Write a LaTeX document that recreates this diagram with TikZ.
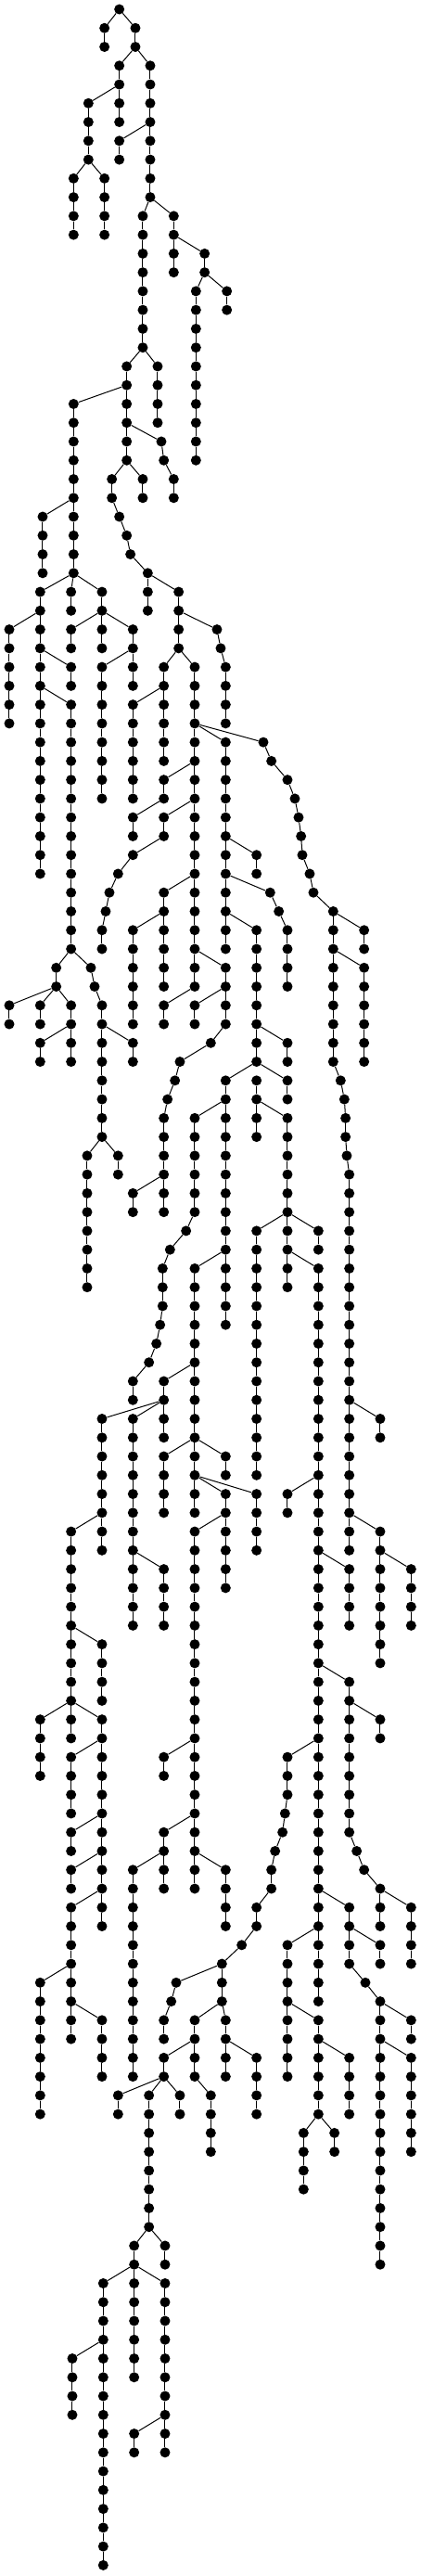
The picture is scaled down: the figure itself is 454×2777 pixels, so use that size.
\documentclass[tikz,border=0pt]{standalone}
\begin{document}
\def\runs{386/0/0,338/1/2,438/1/2,386/3/6,286/5/8,238/9/12,338/9/12,486/3/10,386/7/8,462/11/18,562/11/14,662/13/14,634/15/24,734/15/16,410/19/24,510/19/22,238/21/30,138/27/30,522/23/23,530/24/24,562/25/26,362/25/26,462/25/26,386/27/27,410/28/28,422/29/29,478/30/32,578/31/34,130/31/46,30/33/38,230/35/36,230/37/50,182/51/52,30/53/54,130/53/54,230/53/56,130/55/56,294/51/51,306/52/52,330/53/60,430/55/56,282/61/68,382/61/62,230/31/32,330/31/34,230/33/34,430/33/36,330/35/42,702/33/33,714/34/34,730/35/38,530/35/40,430/37/42,630/35/52,730/39/50,730/51/54,530/41/42,430/43/44,530/43/44,430/45/45,382/46/46,354/47/47,342/48/48,330/49/50,530/47/52,430/49/54,530/53/54,630/53/54,682/55/55,582/56/56,566/57/57,542/58/58,530/59/64,430/63/64,830/45/46,874/47/47,902/48/48,930/49/52,830/49/56,930/55/56,830/57/60,930/57/58,930/59/68,830/65/78,1030/65/66,1030/67/106,1030/107/112,730/57/70,630/59/64,602/65/65,550/66/66,526/67/69,518/70/70,506/71/71,482/72/72,430/73/74,630/67/80,530/73/76,330/75/82,430/75/86,530/83/86,230/81/92,330/87/90,130/91/94,330/91/102,230/93/96,230/97/98,230/99/100,230/101/108,130/105/112,330/107/110,530/77/80,730/77/78,730/79/84,830/79/82,630/81/100,530/93/94,530/97/100,430/99/110,730/99/102,930/79/80,1130/83/86,1130/89/97,1230/91/92,1154/98/98,1178/99/99,1230/100/102,1330/101/104,930/93/95,922/96/96,914/97/97,890/98/98,878/99/100,830/101/102,782/103/103,718/104/106,570/105/105,554/106/106,530/107/108,630/107/110,530/109/110,382/111/112,482/111/118,582/111/112,682/111/114,730/107/110,830/109/112,1130/101/104,1230/103/104,1182/105/105,1230/106/120,1330/107/108,1330/109/114,930/103/110,1130/109/112,982/113/116,1082/113/114,434/119/126,534/119/120,334/121/136,534/121/130,234/125/128,434/129/130,852/39/39,878/40/40,930/41/41,954/42/42,966/43/43,974/44/44,978/45/45,1002/46/46,1014/47/47,1078/48/56,1178/49/50,1178/51/56,1102/57/57,1114/58/58,1118/59/60,1122/61/61,1130/62/82,1230/75/76,1230/81/88,1330/83/86}
\def\diags{0/386/338,0/386/438,2/438/386,2/438/486,4/386/286,8/286/238,8/286/338,6/486/386,10/486/462,10/486/562,12/562/662,14/662/634,14/662/734,18/462/410,18/462/510,20/410/238,26/238/138,22/410/522,23/522/530,24/530/562,24/410/362,24/410/462,26/362/386,27/386/410,28/410/422,29/422/478,30/478/578,30/238/130,30/238/230,30/238/330,32/130/30,34/130/230,36/130/230,50/230/182,50/230/294,52/182/30,52/182/130,52/182/230,54/230/130,51/294/306,52/306/330,54/330/430,60/330/282,60/330/382,32/330/230,32/330/430,34/430/330,32/578/702,33/702/714,34/714/730,34/578/530,34/578/630,36/530/430,38/630/730,38/630/852,40/630/530,42/530/430,42/630/530,44/530/430,45/430/382,46/382/354,47/354/342,48/342/330,46/630/530,48/530/430,50/630/730,52/630/530,52/730/630,54/730/682,55/682/582,56/582/566,57/566/542,58/542/530,62/530/430,44/730/830,46/730/874,47/874/902,48/902/930,48/730/830,54/830/930,56/830/730,56/830/930,58/830/930,64/930/830,64/930/1030,66/930/1030,58/730/630,64/630/602,65/602/550,66/550/526,69/526/518,70/518/506,71/506/482,72/482/430,66/730/630,72/630/530,74/530/330,74/530/430,82/430/530,80/330/230,86/230/330,90/230/130,90/230/330,92/330/230,96/330/230,98/330/230,100/330/230,104/230/130,106/230/330,76/630/530,76/630/730,78/630/730,78/630/830,80/730/630,92/630/530,96/630/530,98/530/430,98/630/730,78/1030/930,82/1030/1130,88/1030/1130,90/1130/1230,97/1130/1154,98/1154/1178,99/1178/1230,100/1230/1330,92/1030/930,95/930/922,96/922/914,97/914/890,98/890/878,100/878/830,102/830/782,103/782/718,104/718/570,105/570/554,106/554/530,106/718/630,106/718/730,108/630/530,110/530/382,110/530/482,110/530/582,110/630/682,108/730/830,100/1030/1130,102/1130/1230,104/1130/1182,105/1182/1230,106/1230/1330,108/1230/1330,102/1030/930,106/930/1030,108/1030/1130,112/1030/982,112/1030/1082,118/482/434,118/482/534,120/434/334,120/434/534,124/334/234,128/534/434,39/852/878,40/878/930,41/930/954,42/954/966,43/966/974,44/974/978,45/978/1002,46/1002/1014,47/1014/1078,48/1078/1178,50/1078/1178,56/1078/1102,57/1102/1114,58/1114/1118,60/1118/1122,61/1122/1130,74/1130/1230,80/1130/1230,82/1230/1330}
\begin{tikzpicture}[x=0.33333pt,y=-20.26pt,
  dot/.style={circle,fill=black,draw=none,inner sep=0pt,minimum size=11pt},
  link/.style={draw=black,line width=1pt}]
\useasboundingbox (0pt,10pt) rectangle (454pt,-2767pt);
\foreach \x/\a/\b in \runs {
  \foreach \l in {\a,...,\b} {
    \node[dot] (n\l x\x) at (\x,\l) {};
    \ifnum\l>\a\relax
      \pgfmathtruncatemacro\p{\l-1}
      \draw[link] (n\p x\x) -- (n\l x\x);
    \fi
  }
}
\foreach \l/\a/\b in \diags {
  \pgfmathtruncatemacro\m{\l+1}
  \draw[link] (n\l x\a) -- (n\m x\b);
}
\end{tikzpicture}
\end{document}
